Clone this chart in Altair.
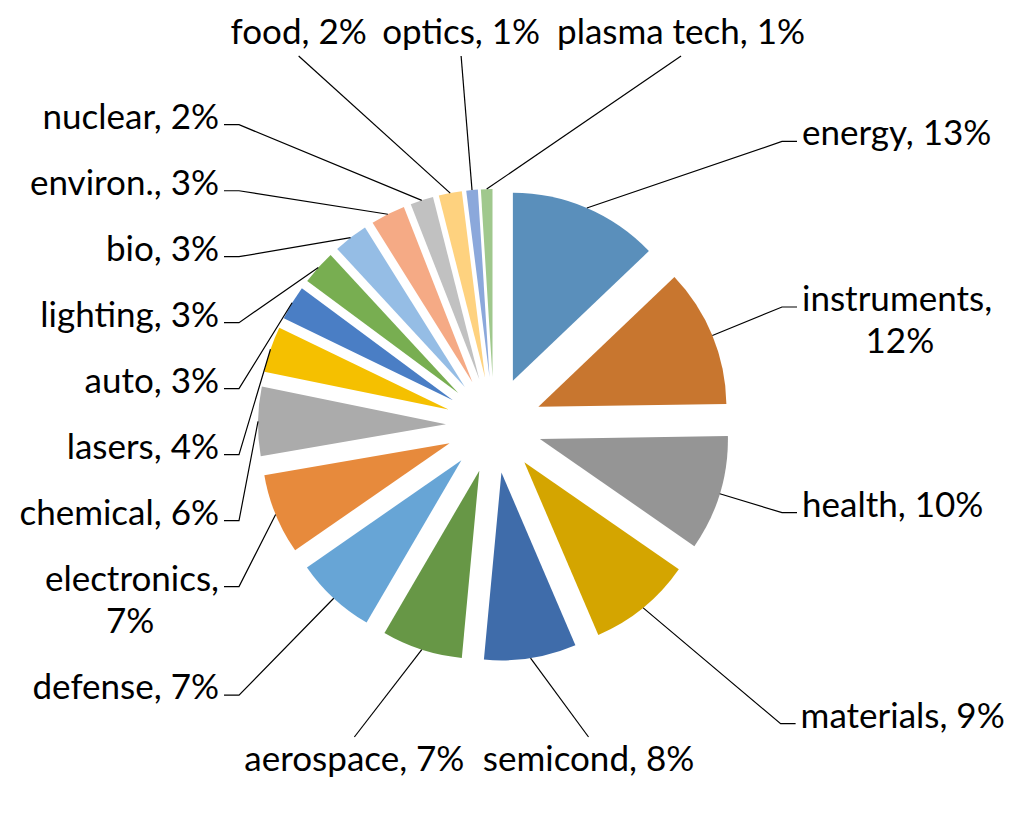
import math
import bisect
import altair as alt
import pandas as pd

# ---------------- data ----------------
categories = ["energy", "instruments", "health", "materials", "semicond",
              "aerospace", "defense", "electronics", "chemical", "lasers",
              "auto", "lighting", "bio", "environ.", "nuclear", "food",
              "optics", "plasma tech"]
shares = [13, 12, 10, 9, 8, 7, 7, 7, 6, 4, 3, 3, 3, 3, 2, 2, 1, 1]
colors = ["#5A8FBB", "#C8762F", "#959595", "#D4A500", "#3F6CAA",
          "#679746", "#67A5D6", "#E78A3C", "#ABABAB", "#F5C000",
          "#4A7EC5", "#78AE51", "#95BDE5", "#F5AA85", "#C1C1C1",
          "#FED27F", "#8BA8DB", "#A0C88D"]
wrapped = ["instruments", "electronics", "aerospace", "plasma tech"]

# ---------------- layout parameters ----------------
W, H = 1018, 806
CX, CY = 486.0, 417.0
R = 188.0
EXPLODE = 48.0
FONT = "Lato"
FS = 35
LH = 42
STUB = 15
TXT_GAP = 5
GAP_TOP = 16
GAP_SIDE = 24
SPRING = 0.004
TOP_RIGHT = 200.0
AXL, AXR, AYT, AYB, NEXP = 255.0, 288.0, 369.0, 312.0, 40.0

calibri = {"a": .479, "b": .525, "c": .423, "d": .525, "e": .498, "f": .305,
           "g": .471, "h": .525, "i": .229, "j": .239, "k": .455, "l": .229,
           "m": .799, "n": .525, "o": .527, "p": .525, "q": .525, "r": .349,
           "s": .391, "t": .335, "u": .525, "v": .452, "w": .715, "x": .433,
           "y": .453, "z": .395, " ": .226, ",": .250, ".": .252, "%": .715}
EM = 38.0


def text_w(s):
    return sum(calibri.get(ch, .507) for ch in s) * EM


n = len(categories)
total = float(sum(shares))
mids = []
acc = 0.0
for v in shares:
    mids.append(2 * math.pi * (acc + v / 2.0) / total)
    acc += v


def label_lines(i, mode):
    c, v = categories[i], shares[i]
    if c in wrapped and mode in ("left", "right"):
        return [f"{c},", f"{v}%"]
    return [f"{c}, {v}%"]


def curve(a):
    dx, dy = math.sin(a), -math.cos(a)
    ax = AXR if dx >= 0 else AXL
    ay = AYB if dy >= 0 else AYT
    t = (abs(dx / ax) ** NEXP + abs(dy / ay) ** NEXP) ** (-1.0 / NEXP)
    return CX + t * dx, CY + t * dy


TWO_PI = 2 * math.pi
gaps = [(((mids[(i + 1) % n] - mids[i]) % TWO_PI), i) for i in range(n)]
g, gi = max(gaps)
a0 = mids[gi] + g / 2.0
M = 8000
pts = [curve(a0 + TWO_PI * k / M) for k in range(M + 1)]
S = [0.0]
for k in range(1, M + 1):
    S.append(S[-1] + math.hypot(pts[k][0] - pts[k - 1][0], pts[k][1] - pts[k - 1][1]))
L = S[-1]


def at_s(s):
    s = min(max(s, 0.0), L)
    k = bisect.bisect_left(S, s)
    k = min(max(k, 1), M)
    seg = S[k] - S[k - 1]
    f = (s - S[k - 1]) / seg if seg > 0 else 0.0
    x = pts[k - 1][0] + f * (pts[k][0] - pts[k - 1][0])
    y = pts[k - 1][1] + f * (pts[k][1] - pts[k - 1][1])
    tx = pts[k][0] - pts[k - 1][0]
    ty = pts[k][1] - pts[k - 1][1]
    nn = math.hypot(tx, ty) or 1.0
    return x, y, tx / nn, ty / nn


def s_of_angle(a):
    u = ((a - a0) % TWO_PI) / TWO_PI * M
    k = int(u)
    f = u - k
    return S[k] + f * (S[min(k + 1, M)] - S[k])


def placement(i, s):
    """mode, elbow, text lines and text box of label i at curve position s"""
    x, y, tx, ty = at_s(s)
    if abs(tx) > abs(ty):
        if y < CY:
            mode = "top" if x - CX <= TOP_RIGHT else "right"
        else:
            mode = "bottom"
    else:
        mode = "right" if x >= CX else "left"
    lns = label_lines(i, mode)
    nl = len(lns)
    w = max(text_w(l) for l in lns)
    if mode == "top":
        box = (x - w / 2, x + w / 2, y - 2 - nl * LH, y - 2)
    elif mode == "bottom":
        box = (x - w / 2, x + w / 2, y + 2, y + 2 + nl * LH)
    else:
        bw = STUB + TXT_GAP + w
        x0, x1 = (x, x + bw) if mode == "right" else (x - bw, x)
        y0 = y - 7 - LH / 2.0
        box = (x0, x1, y0, y0 + LH * nl)
    return mode, x, y, tx, ty, lns, box


def extent(i, s):
    mode, x, y, tx, ty, lns, (x0, x1, y0, y1) = placement(i, s)
    proj = [(px - x) * tx + (py - y) * ty for px in (x0, x1) for py in (y0, y1)]
    return min(proj), max(proj), mode


def resolve(pos, order):
    for k in range(n - 1):
        i, j = order[k], order[k + 1]
        lo_i, hi_i, mi = extent(i, pos[i])
        lo_j, hi_j, mj = extent(j, pos[j])
        gap = GAP_TOP if (mi in ("top", "bottom") and mj in ("top", "bottom")) else GAP_SIDE
        ov = (pos[i] + hi_i + gap) - (pos[j] + lo_j)
        if ov > 0:
            pos[i] -= ov * 0.5
            pos[j] += ov * 0.5
    return [min(max(p, 0.0), L) for p in pos]


# larger slices hold their labels closer to their own position
ideal = [s_of_angle(m) for m in mids]
pos = list(ideal)
order = sorted(range(n), key=lambda i: pos[i])
for it in range(4000):
    for i in range(n):
        pos[i] += SPRING * shares[i] * (ideal[i] - pos[i])
    for sweep in range(4):
        pos = resolve(pos, order)
for it in range(400):
    pos = resolve(pos, order)

# ---------------- tables ----------------
pie_rows, lead_rows, txt_rows = [], [], []
for i in range(n):
    m = mids[i]
    dx, dy = math.sin(m), -math.cos(m)
    pie_rows.append({"cat": categories[i], "share": shares[i], "idx": i,
                     "cx": CX + EXPLODE * dx, "cy": CY + EXPLODE * dy})
    ax_, ay_ = CX + (EXPLODE + R) * dx, CY + (EXPLODE + R) * dy
    mode, ex, ey, _, _, lns, box = placement(i, pos[i])
    path = [(ax_, ay_), (ex, ey)]
    nl = len(lns)
    if mode in ("left", "right"):
        right = mode == "right"
        sx = ex + STUB if right else ex - STUB
        path.append((sx, ey))
        tx0 = sx + TXT_GAP if right else sx - TXT_GAP
        ty0 = ey - 7
        txt_rows.append({"t": lns[0], "x": tx0, "y": ty0,
                         "align": "left" if right else "right"})
        w1 = text_w(lns[0])
        cxl = tx0 + w1 / 2.0 if right else tx0 - w1 / 2.0
        for k2, ln in enumerate(lns[1:], start=1):
            txt_rows.append({"t": ln, "x": cxl, "y": ty0 + LH * k2, "align": "center"})
    else:
        for k2, ln in enumerate(lns):
            if mode == "top":
                yy = ey - 2 - (nl - k2 - 0.5) * LH
            else:
                yy = ey + 2 + (k2 + 0.5) * LH
            txt_rows.append({"t": ln, "x": ex, "y": yy, "align": "center"})
    for k, (px, py) in enumerate(path):
        lead_rows.append({"cat": categories[i], "k": k, "x": px, "y": py})

pie_df = pd.DataFrame(pie_rows)
lead_df = pd.DataFrame(lead_rows)
txt_df = pd.DataFrame(txt_rows)

pie = alt.Chart(pie_df).mark_arc(radius=R).encode(
    theta=alt.Theta("share:Q", stack=True),
    order=alt.Order("idx:Q"),
    color=alt.Color("cat:N", scale=alt.Scale(domain=categories, range=colors), legend=None),
    x=alt.X("cx:Q", scale=None),
    y=alt.Y("cy:Q", scale=None),
)

leaders = alt.Chart(lead_df).mark_line(color="#000000", strokeWidth=1.2).encode(
    x=alt.X("x:Q", scale=None),
    y=alt.Y("y:Q", scale=None),
    detail="cat:N",
    order="k:Q",
)


def text_layer(align):
    return alt.Chart(txt_df).transform_filter(alt.datum.align == align).mark_text(
        align=align, baseline="middle", font=FONT, fontSize=FS, color="#000000"
    ).encode(
        x=alt.X("x:Q", scale=None),
        y=alt.Y("y:Q", scale=None),
        text="t:N",
    )


chart = alt.layer(
    pie, leaders, text_layer("left"), text_layer("right"), text_layer("center")
).properties(width=W, height=H, padding=0, autosize="none").configure_view(stroke=None)

chart.save("out.html", embed_options={"renderer": "svg", "actions": False})
